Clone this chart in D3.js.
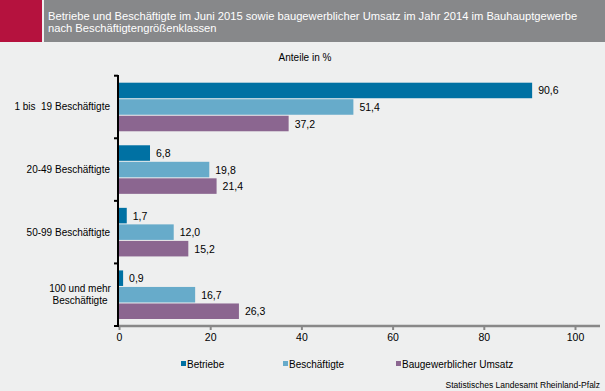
<!DOCTYPE html>
<html><head><meta charset="utf-8">
<script src="https://cdn.jsdelivr.net/npm/d3@7"></script>
<style>
body{margin:0;padding:0;background:#eeefef;}
svg{display:block;}
text{font-family:"Liberation Sans",Arial,sans-serif;}
</style></head>
<body>
<svg id="chart" width="605" height="391"></svg>
<script>
const categories = ["1 bis  19 Beschäftigte", "20-49 Beschäftigte", "50-99 Beschäftigte", "100 und mehr|Beschäftigte"];
const seriesNames = ["Betriebe", "Beschäftigte", "Baugewerblicher Umsatz"];
const betriebe = [90.6, 6.8, 1.7, 0.9];
const beschaeftigte = [51.4, 19.8, 12.0, 16.7];
const umsatz = [37.2, 21.4, 15.2, 26.3];
const xTicks = [0, 20, 40, 60, 80, 100];
const colors = ["#0071a3", "#67abca", "#8b6690"];
const seriesValues = [betriebe, beschaeftigte, umsatz];

const svg = d3.select("#chart");
svg.append("rect").attr("width",605).attr("height",391).attr("fill","#eeefef");

// header
svg.append("rect").attr("x",0).attr("y",0).attr("width",605).attr("height",42).attr("fill","#87888a");
svg.append("rect").attr("x",0).attr("y",0).attr("width",42).attr("height",42).attr("fill","#b5123e");
svg.append("rect").attr("x",42).attr("y",0).attr("width",2).attr("height",42).attr("fill","#eeefef");
svg.append("text").attr("x",48).attr("y",19.5).attr("fill","#fff").attr("font-size",11.2)
  .text("Betriebe und Beschäftigte im Juni 2015 sowie baugewerblicher Umsatz im Jahr 2014 im Bauhauptgewerbe");
svg.append("text").attr("x",48).attr("y",31.5).attr("fill","#fff").attr("font-size",11.2)
  .text("nach Beschäftigtengrößenklassen");

svg.append("text").attr("x",305).attr("y",61).attr("text-anchor","middle").attr("font-size",10).attr("fill","#000").text("Anteile in %");

const x = d3.scaleLinear().domain([0,100]).range([119,575]);
const y = d3.scaleBand().domain(categories).range([75.7,326]).paddingInner(0).paddingOuter(0);
const inner = d3.scaleBand().domain(seriesNames).range([7, y.bandwidth()-7]).paddingInner(0.06);

// bars
seriesNames.forEach((s,si)=>{
  const g = svg.append("g");
  g.selectAll("rect").data(categories).join("rect")
    .attr("x", x(0)).attr("y", c=>y(c)+inner(s))
    .attr("width", (c,i)=>x(seriesValues[si][i])-x(0))
    .attr("height", inner.bandwidth())
    .attr("fill", colors[si]);
  g.selectAll("text").data(categories).join("text")
    .attr("x",(c,i)=>x(seriesValues[si][i])+6)
    .attr("y", c=>y(c)+inner(s)+inner.bandwidth()/2+4)
    .attr("font-size",10.5).attr("fill","#000")
    .text((c,i)=>d3.format(".1f")(seriesValues[si][i]).replace(".",","));
});

// x axis
const xAxis = svg.append("g").attr("transform","translate(0,326)")
  .call(d3.axisBottom(x).tickValues(xTicks).tickSize(4).tickPadding(4).tickFormat(d=>d));
xAxis.select(".domain").remove();
xAxis.selectAll(".tick line").attr("stroke","#888").attr("stroke-width",2);
xAxis.selectAll("text").attr("font-size",10.5).attr("fill","#000").attr("font-family","Liberation Sans, Arial, sans-serif");
svg.append("line").attr("x1",118).attr("x2",600).attr("y1",326).attr("y2",326).attr("stroke","#888").attr("stroke-width",2.5);

// y axis
svg.append("line").attr("x1",118).attr("x2",118).attr("y1",75).attr("y2",327).attr("stroke","#000").attr("stroke-width",2);
const yTickPos = categories.map(c=>y(c)).concat([326]);
svg.selectAll(".ytick").data(yTickPos).join("line")
  .attr("x1",114).attr("x2",118).attr("y1",d=>d).attr("y2",d=>d).attr("stroke","#000").attr("stroke-width",2);

// category labels
categories.forEach(c=>{
  const lines = c.split("|");
  const cy = y(c)+y.bandwidth()/2;
  const multi = lines.length>1;
  const t = svg.append("text").attr("text-anchor", multi ? "middle" : "end").attr("font-size",10).attr("fill","#000");
  lines.forEach((l,i)=>{
    t.append("tspan").attr("x", multi ? 80 : 110)
     .attr("y", cy + 3.5 + (i-(lines.length-1)/2)*11.5)
     .attr("xml:space","preserve").text(l);
  });
});

// legend
const legendX = [181, 283, 396];
seriesNames.forEach((s,i)=>{
  svg.append("rect").attr("x",legendX[i]).attr("y",361).attr("width",5).attr("height",5).attr("fill",colors[i]);
  svg.append("text").attr("x",legendX[i]+6).attr("y",367.5).attr("font-size",10).attr("fill","#000").text(s);
});

svg.append("text").attr("x",600).attr("y",388).attr("text-anchor","end").attr("font-size",8.5).attr("fill","#000").text("Statistisches Landesamt Rheinland-Pfalz");
</script>
</body></html>
